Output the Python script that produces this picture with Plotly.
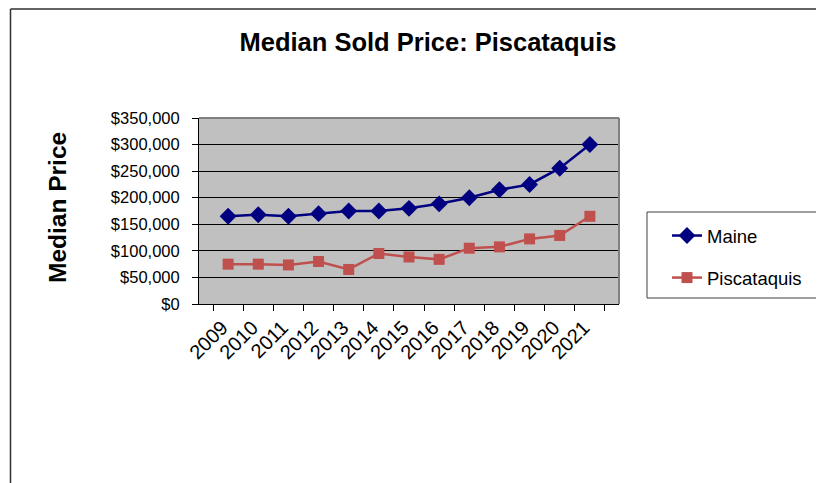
import plotly.graph_objects as go

years = ["2009", "2010", "2011", "2012", "2013", "2014", "2015",
         "2016", "2017", "2018", "2019", "2020", "2021"]
maine = [165000, 168000, 165000, 170000, 175000, 175000, 180000,
         188500, 200000, 215000, 225000, 255500, 300000]
piscataquis = [75000, 75000, 73500, 80000, 65000, 95000, 88500,
               84000, 105000, 107500, 122500, 129000, 165000]

W, H = 824, 483
OFF = 8  # page body margin offset
L, R, T, B = 199 - OFF, 619 - OFF, 118 - OFF, 304 - OFF  # plot area (figure px)


def px_x(px):
    return (px - OFF - L) / (R - L)


def px_y(py):
    return (B - (py - OFF)) / (B - T)


FONT = "Liberation Sans, Arial, sans-serif"

fig = go.Figure()
fig.add_trace(go.Scatter(
    x=years, y=maine, name="Maine", mode="lines+markers",
    line=dict(color="#000080", width=2.5),
    marker=dict(symbol="diamond", size=13, color="#000080"),
    legendgroup="a"))
fig.add_trace(go.Scatter(
    x=years, y=piscataquis, name="Piscataquis", mode="lines+markers",
    line=dict(color="#C0504D", width=2.5),
    marker=dict(symbol="square", size=11, color="#C0504D"),
    legendgroup="b"))

fig.update_layout(
    width=W, height=H,
    margin=dict(l=L, r=W - R, t=T, b=H - B, autoexpand=False),
    paper_bgcolor="white", plot_bgcolor="#C0C0C0",
    font=dict(family=FONT, color="black"),
    title=dict(text="<b>Median Sold Price: Piscataquis</b>",
               font=dict(size=25.5, family=FONT, color="black"),
               xref="paper", x=px_x(428), xanchor="center",
               yref="container", y=1 - (42 - OFF) / H, yanchor="middle"),
    showlegend=True,
    legend=dict(x=px_x(667), xanchor="left", y=px_y(217), yanchor="top",
                bgcolor="rgba(0,0,0,0)", borderwidth=0,
                font=dict(size=18.5, family=FONT, color="black"),
                tracegroupgap=15, traceorder="grouped"),
)

fig.update_xaxes(
    type="category", tickson="boundaries",
    ticks="outside", ticklen=6, tickcolor="black", tickwidth=1,
    showline=True, linecolor="black", linewidth=1, mirror=False,
    showgrid=False, tickangle=-45, ticklabelshift=-6, ticklabelstandoff=3,
    tickfont=dict(size=20, family=FONT, color="black"),
)
fig.update_yaxes(
    range=[0, 350000], dtick=50000, tickformat="$,.0f",
    ticks="outside", ticklen=6, tickcolor="black", tickwidth=1,
    showline=True, linecolor="black", linewidth=1,
    showgrid=True, gridcolor="black", gridwidth=1,
    zeroline=False, ticklabelstandoff=9,
    tickfont=dict(size=16.5, family=FONT, color="black"),
)

shapes = [
    # top and right border of plot area
    dict(type="line", xref="paper", yref="paper", x0=0, x1=1, y0=1, y1=1,
         line=dict(color="#808080", width=2)),
    dict(type="line", xref="paper", yref="paper", x0=1, x1=1, y0=0, y1=1,
         line=dict(color="#808080", width=2)),
    # outer chart border (left and top)
    dict(type="line", xref="paper", yref="paper",
         x0=px_x(10.5), x1=px_x(10.5), y0=px_y(500), y1=px_y(9),
         line=dict(color="#303030", width=1.5)),
    dict(type="line", xref="paper", yref="paper",
         x0=px_x(10.5), x1=px_x(840), y0=px_y(9), y1=px_y(9),
         line=dict(color="#303030", width=1.5)),
    # legend box
    dict(type="rect", xref="paper", yref="paper",
         x0=px_x(647), x1=px_x(820), y0=px_y(298), y1=px_y(212),
         line=dict(color="#404040", width=1), fillcolor="rgba(0,0,0,0)"),
]
fig.update_layout(shapes=shapes)

fig.add_annotation(
    text="<b>Median Price</b>", textangle=-90,
    xref="paper", yref="paper", x=px_x(57), y=px_y(208),
    xanchor="center", yanchor="middle", showarrow=False,
    font=dict(size=24.5, family=FONT, color="black"))

fig.write_html("out.html")
